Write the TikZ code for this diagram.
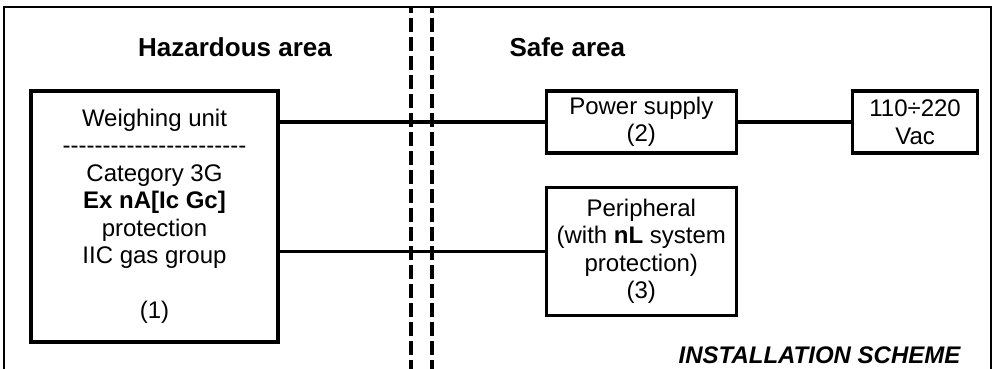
\documentclass[tikz,border=0pt]{standalone}
\usepackage{fontspec}
\setmainfont{Liberation Sans}
\usetikzlibrary{positioning}
\tikzset{ubox/.style={draw, line width=3.3pt, inner sep=0pt, align=center, font=\fontsize{24}{27.5}\selectfont}}
\tikzset{wire/.style={draw, line width=3.3pt}}
\tikzset{bord/.style={draw, line width=2.8pt}}
\tikzset{sepline/.style={draw, line width=4pt, dash pattern=on 14pt off 5pt, dash phase=8pt}}
\tikzset{areatitle/.style={font=\fontsize{26}{30}\selectfont\bfseries}}
\newcommand{\hyphenrow}{\foreach \k in {1,...,23}{\mbox{-}}}

\begin{document}
\begin{tikzpicture}[x=1pt, y=-1pt]
			\useasboundingbox (0,0) rectangle (993,368);
			\clip (0,0) rectangle (993,368);
			\draw[bord] (4,380) -- (4,7) -- (991,7) -- (991,380);
			\draw[sepline] (410.7,7) -- (410.7,380);
			\draw[sepline] (432,7) -- (432,380);
			\node[areatitle] (haz) at (235,47) {Hazardous area};
			\node[areatitle, anchor=west] (safe) at (506,47) {Safe area};
			\node[ubox, minimum width=247pt, minimum height=251pt] (W) at (154.5,216.5)
				{Weighing unit\\\hyphenrow\\Category 3G\\\textbf{Ex nA[Ic Gc]}\\protection\\IIC gas group\\ \\(1)};
			\node[ubox, minimum width=190pt, minimum height=62pt,
				below right=0pt and 265pt of W.north east] (P) {Power supply\\(2)};
			\node[ubox, minimum width=125pt, minimum height=62pt,
				right=113pt of P] (V) {110÷220\\Vac};
			\node[ubox, minimum width=190pt, minimum height=128pt,
				below=31pt of P] (Per) {Peripheral\\(with \textbf{nL} system\\protection)\\(3)};
			\draw[wire] (P.west -| W.east) -- (P.west);
			\draw[wire] (P) -- (V);
			\draw[wire] (Per.west -| W.east) -- (Per.west);
			\node[font=\fontsize{24}{28}\selectfont\bfseries\itshape] (scheme) at (819.5,355.5) {INSTALLATION SCHEME};
		\end{tikzpicture}
\end{document}
